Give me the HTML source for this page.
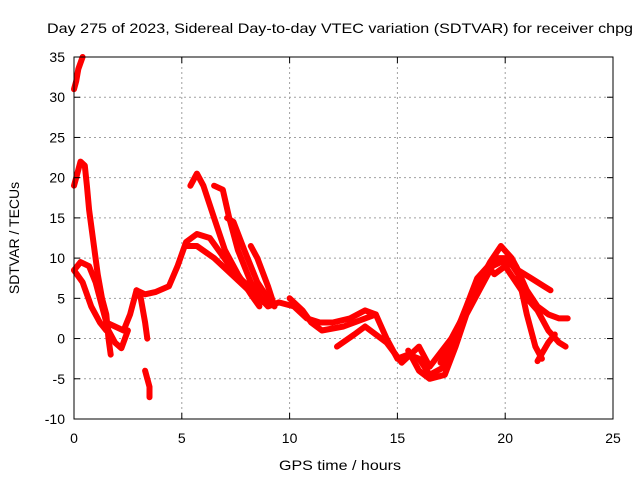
<!DOCTYPE html>
<html><head><meta charset="utf-8"><style>
body{margin:0;background:#fff;}
svg{display:block;font-family:"Liberation Sans",sans-serif;}
</style></head><body>
<svg id="chart" width="640" height="480" viewBox="0 0 640 480" xmlns="http://www.w3.org/2000/svg">
<rect width="640" height="480" fill="#fff"/>
<text x="47" y="33" font-size="14" textLength="586" lengthAdjust="spacingAndGlyphs" fill="#000">Day 275 of 2023, Sidereal Day-to-day VTEC variation (SDTVAR) for receiver chpg</text>
<g id="grid"></g>
<g id="series"></g>
<rect x="74" y="57" width="539" height="362" fill="none" stroke="#000" stroke-width="1"/>
<g id="axes"></g>
<text x="340" y="470" font-size="14" text-anchor="middle" textLength="122" lengthAdjust="spacingAndGlyphs">GPS time / hours</text>
<text x="0" y="0" font-size="14" text-anchor="middle" transform="translate(19,238) rotate(-90)">SDTVAR / TECUs</text>
</svg>
<script>
const xTicks=[0,5,10,15,20,25];
const yTicks=[-10,-5,0,5,10,15,20,25,30,35];
const s1=[[0,31],[0.1,32],[0.2,33.5],[0.4,35]];
const s2=[[0,19],[0.1,20],[0.3,22],[0.5,21.5],[0.6,19],[0.7,16],[0.9,12],[1.1,8],[1.3,5],[1.5,3],[1.6,0],[1.7,-2]];
const s3=[[0,8.5],[0.3,9.5],[0.7,9],[1.0,7],[1.3,4],[1.6,1],[1.9,-0.5],[2.2,-1.2],[2.5,1]];
const s4=[[0,8.5],[0.4,7],[0.8,4],[1.2,2],[1.5,1]];
const s5=[[1.5,2],[1.9,1.5],[2.3,1],[2.6,3],[2.9,6],[3.1,5],[3.3,2],[3.4,0]];
const s6=[[3.3,-4],[3.5,-6],[3.5,-7.3]];
const s7=[[2.9,6],[3.3,5.5],[3.8,5.8],[4.4,6.5],[4.8,9],[5.2,12],[5.7,13],[6.3,12.5],[6.7,11],[7.5,8],[8.3,6],[9,4],[9.5,4.5],[10.2,4],[10.8,2.5],[11.4,2],[12,2],[12.8,2.5],[13.5,3.5],[14,3],[14.5,0],[15,-2.5],[15.5,-2],[16,-2.5],[16.5,-4.5],[17.2,-3.5],[17.8,1],[18.4,5],[19,8],[19.6,10],[20.1,10],[20.6,8],[21,3],[21.4,-1],[21.7,-2.5]];
const s8=[[5.2,11.5],[5.7,11.5],[6.5,10],[7.5,7.5],[8.3,5.5],[9,4.5]];
const s9=[[5.4,19],[5.7,20.5],[6,19],[6.5,15],[7,11],[7.6,8],[8.2,5.5],[8.6,4]];
const s10=[[6.5,19],[6.9,18.5],[7.2,15],[7.6,11],[8.2,7],[8.8,4.5]];
const s11=[[7.1,15],[7.4,14.5],[7.9,11],[8.5,7],[9,5]];
const s12=[[8.2,11.5],[8.5,10],[9,6.5],[9.3,4]];
const s13=[[10,5],[10.6,3.5],[11,2],[11.5,1],[12.5,1.5],[13.5,2.5],[14,3]];
const s14=[[12.2,-1],[13,0.5],[13.5,1.5],[14.5,-0.5],[15.2,-3],[16,-1],[16.5,-3.5],[17.5,0],[18.3,4],[18.8,7],[19.3,9.5],[19.8,11.5],[20.3,10],[20.6,8.5],[21.2,7.5],[21.8,6.5],[22.1,6]];
const s15=[[15.5,-1.5],[16,-4],[16.5,-5],[17.2,-4.5],[17.7,-1],[18.2,3],[18.8,6],[19.4,9],[19.8,9.5],[20.5,9],[21,6],[21.5,4],[22,3],[22.5,2.5],[22.9,2.5]];
const s16=[[17,-3],[17.6,0],[18.2,4],[18.7,7.5],[19.2,9],[19.5,8],[20,9],[20.5,7],[21,5],[21.5,3.5],[22,1],[22.5,-0.5],[22.8,-1]];
const s17=[[21.5,-2.8],[22,-0.5],[22.3,0.5]];
const allSeries=[s1,s2,s3,s4,s5,s6,s7,s8,s9,s10,s11,s12,s13,s14,s15,s16,s17];
const X0=74,X1=613,Y0=419,Y1=57;
function xs(v){return X0+(v-0)/(25-0)*(X1-X0);}
function ys(v){return Y0-(v+10)/(45)*(Y0-Y1);}
const NS="http://www.w3.org/2000/svg";
const grid=document.getElementById('grid'),axes=document.getElementById('axes'),ser=document.getElementById('series');
function mk(t,a,p){const e=document.createElementNS(NS,t);for(const k in a)e.setAttribute(k,a[k]);p.appendChild(e);return e;}
xTicks.forEach(v=>{const x=xs(v);
 if(v>0&&v<25){const g=mk('line',{x1:x,x2:x,y1:Y1,y2:Y0,stroke:'#a0a0a0','stroke-dasharray':'2,3'},grid);
 }
 const t1=mk('line',{x1:x,x2:x,y1:Y0,y2:Y0-6,stroke:'#000'},axes);
 
 const t2=mk('line',{x1:x,x2:x,y1:Y1,y2:Y1+6,stroke:'#000'},axes);
 
 const l=mk('text',{x:x,y:443,'font-size':14,'text-anchor':'middle'},axes);l.textContent=v;
 });
yTicks.forEach(v=>{const y=ys(v);
 if(v>-10&&v<35){const g=mk('line',{x1:X0,x2:X1,y1:y,y2:y,stroke:'#a0a0a0','stroke-dasharray':'2,3'},grid);
 }
 const t1=mk('line',{x1:X0,x2:X0+6,y1:y,y2:y,stroke:'#000'},axes);
 
 const t2=mk('line',{x1:X1,x2:X1-6,y1:y,y2:y,stroke:'#000'},axes);
 
 const l=mk('text',{x:65,y:y+5,'font-size':14,'text-anchor':'end'},axes);l.textContent=v;
 });
allSeries.forEach((s,i)=>{
 const pts=s.map(p=>xs(p[0]).toFixed(1)+','+ys(p[1]).toFixed(1)).join(' ');
 const pl=mk('polyline',{points:pts,fill:'none',stroke:'#ff0000','stroke-width':6,'stroke-linejoin':'round','stroke-linecap':'round'},ser);
 
 
});
</script>
</body></html>
